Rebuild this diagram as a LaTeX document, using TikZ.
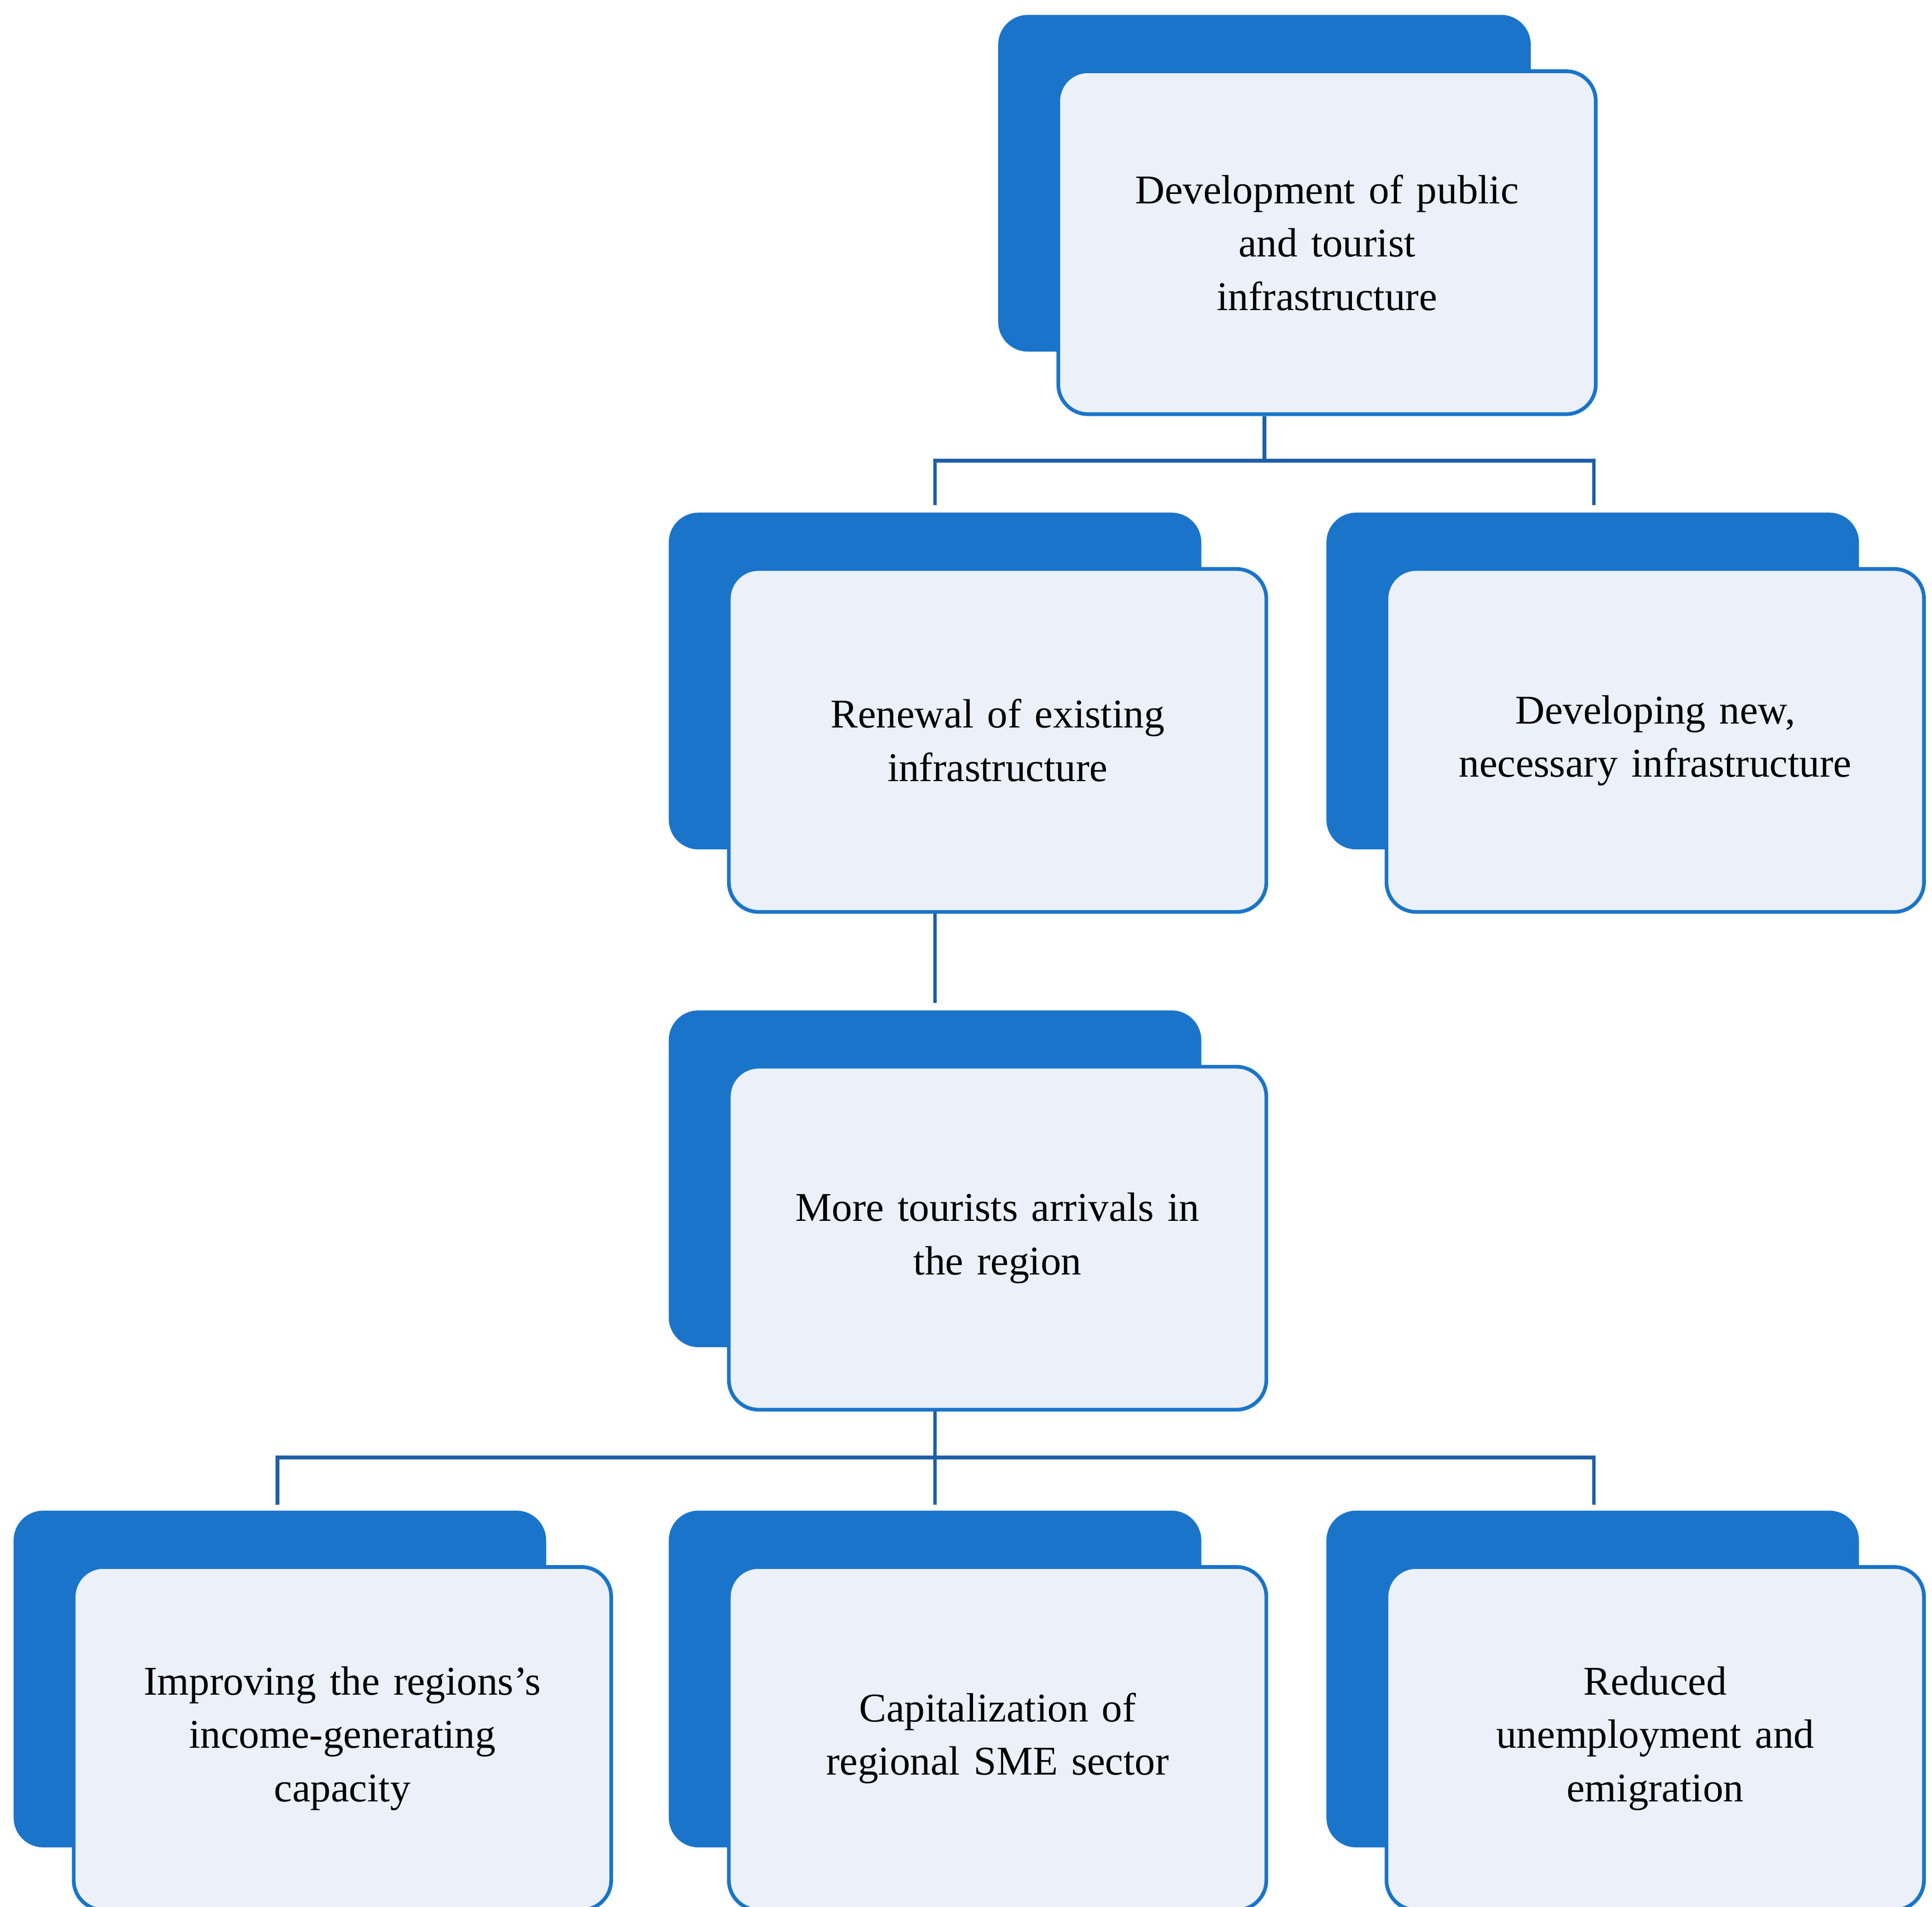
\documentclass[tikz,border=0pt]{standalone}
\usepackage{fontspec}
\setmainfont{Liberation Serif}
\begin{document}
\begin{tikzpicture}[x=1pt,y=-1pt,
  back/.style={fill=dk,draw=none,rounded corners=24pt},
  front/.style={fill=lt,draw=dk,line width=3pt,rounded corners=24pt,minimum width=434pt,minimum height=277pt,text width=390pt,align=center,font=\fontsize{33}{43}\selectfont,inner sep=0pt},
  conn/.style={draw=cn,line width=3pt}]
\definecolor{dk}{HTML}{1A74C9}
\definecolor{lt}{HTML}{ECF0F9}
\definecolor{cn}{HTML}{1F5FA8}
\useasboundingbox (0,0) rectangle (1560,1540);
% x: back left, y: back top
\newcommand{\mybox}[4]{%
  \fill[back] (#1,#2) rectangle ++(430,272);
  \node[front,anchor=north west] (#3) at (#1+47,#2+44) {#4};}
\mybox{806}{12}{a}{Development of public\\ and tourist\\ infrastructure}
\mybox{540}{414}{b}{Renewal of existing\\ infrastructure}
\mybox{1071}{414}{c}{Developing new,\\ necessary infrastructure}
\mybox{540}{816}{d}{More tourists arrivals in\\ the region}
\mybox{11}{1220}{e}{Improving the regions's\\ income-generating\\ capacity}
\mybox{540}{1220}{f}{Capitalization of\\ regional SME sector}
\mybox{1071}{1220}{g}{Reduced\\ unemployment and\\ emigration}
\coordinate (a1) at (1021,372);
\coordinate (b0) at (755,408);
\coordinate (c0) at (1287,408);
\draw[conn] (a1 |- a.south) -- (a1);
\draw[conn] (b0) |- (a1) -| (c0);
\coordinate (b1) at (755,810);
\draw[conn] (b1 |- b.south) -- (b1);
\coordinate (d1) at (755,1177);
\coordinate (e0) at (224,1215);
\coordinate (f0) at (755,1215);
\coordinate (g0) at (1287,1215);
\draw[conn] (d1 |- d.south) -- (f0);
\draw[conn] (e0) |- (d1) -| (g0);
\end{tikzpicture}
\end{document}
